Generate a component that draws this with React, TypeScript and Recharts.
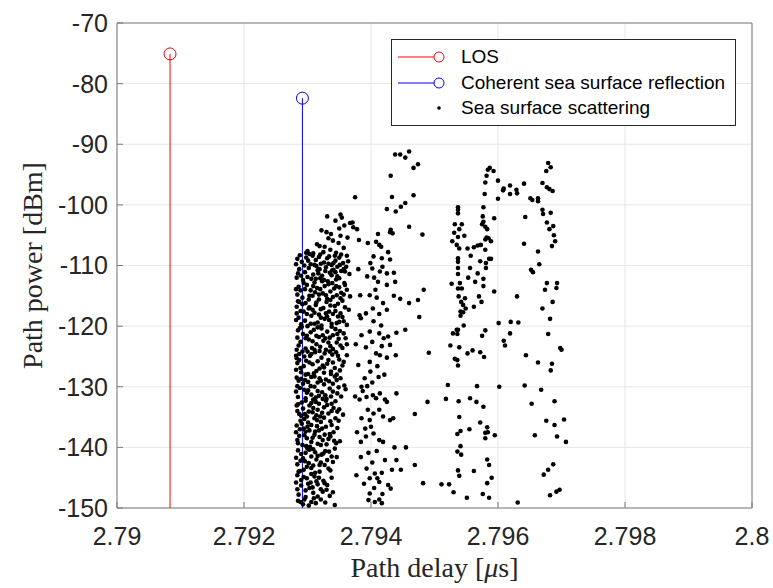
import { CartesianGrid, ReferenceArea, Scatter, ScatterChart, XAxis, YAxis } from "recharts";

// stems (delay in us, power in dBm)
const losStem = [
  { delay: 2.790835, power: -150 },
  { delay: 2.790835, power: -75.1 },
];
const reflectionStem = [
  { delay: 2.79292, power: -150 },
  { delay: 2.79292, power: -82.4 },
];

// dense scattering cluster right after the coherent reflection
const denseCluster: [number, number][] = [
  [2.79331, -101.9], [2.79344, -102.6], [2.79358, -103.4], [2.79322, -104.2], [2.7934, -105.9], [2.79363, -105.4],
  [2.79315, -106.5], [2.79327, -106.9], [2.79349, -106.3], [2.79357, -107.1], [2.793, -107.6], [2.79336, -107.4],
  [2.79345, -107.9], [2.79309, -108.0], [2.7932, -108.2], [2.79362, -108.4],
  [2.79284, -108.9], [2.79291, -109.4], [2.79298, -108.7], [2.79305, -109.8], [2.79313, -109.1], [2.79318, -108.6],
  [2.79326, -109.5], [2.79331, -108.8], [2.79338, -109.9], [2.79344, -109.2], [2.7935, -108.7], [2.79356, -109.6],
  [2.79361, -110.2], [2.79287, -110.6], [2.79296, -111.1], [2.79302, -110.4], [2.79309, -111.5], [2.79316, -110.8],
  [2.79323, -111.7], [2.79329, -110.3], [2.79335, -111.2], [2.79341, -110.7], [2.79347, -111.8], [2.79353, -110.9],
  [2.79366, -111.4], [2.79283, -112.0], [2.79293, -112.4], [2.79311, -112.8], [2.7932, -112.1], [2.79332, -112.6],
  [2.79345, -112.3], [2.79358, -112.9],
  [2.79286, -113.5], [2.79299, -113.2], [2.79305, -114.1], [2.79315, -113.7], [2.79327, -113.4], [2.79336, -114.3],
  [2.7935, -113.6], [2.79362, -114.0], [2.79284, -114.8], [2.79292, -115.3], [2.79308, -115.0], [2.79318, -115.6],
  [2.79324, -114.6], [2.7934, -115.2], [2.79346, -114.9], [2.79355, -115.8], [2.79297, -116.2], [2.7933, -116.0],
  [2.79283, -116.8], [2.79289, -117.5], [2.79303, -116.9], [2.79311, -117.8], [2.79321, -117.2], [2.79334, -117.6],
  [2.79343, -116.7], [2.79352, -117.9], [2.79365, -117.3], [2.79286, -118.6], [2.79296, -119.1], [2.79306, -118.3],
  [2.79316, -119.4], [2.79327, -118.8], [2.79338, -119.6], [2.79348, -118.4], [2.79357, -119.2], [2.793, -120.0],
  [2.79322, -119.9],
  [2.79285, -120.7], [2.79293, -121.3], [2.7931, -120.6], [2.79318, -121.8], [2.79331, -120.9], [2.7934, -121.5],
  [2.79351, -120.8], [2.7936, -122.0], [2.79289, -122.6], [2.79302, -122.2], [2.79314, -123.0], [2.79325, -122.4],
  [2.79336, -123.3], [2.79346, -122.7], [2.79355, -123.6], [2.79283, -123.9], [2.79297, -123.7], [2.79329, -123.9],
  [2.79287, -124.6], [2.79304, -124.9], [2.79312, -124.3], [2.79322, -125.2], [2.79339, -124.7], [2.7935, -125.5],
  [2.79362, -124.8], [2.79284, -126.1], [2.79294, -126.6], [2.79308, -126.3], [2.79319, -127.0], [2.79331, -126.2],
  [2.79343, -126.9], [2.79355, -126.5], [2.7929, -127.6], [2.79301, -127.9], [2.79326, -127.7], [2.79346, -128.0],
  [2.79283, -128.5], [2.79296, -128.9], [2.79306, -128.4], [2.79316, -129.3], [2.79329, -128.8], [2.7934, -129.5],
  [2.79352, -128.6], [2.79288, -130.2], [2.79301, -130.6], [2.79311, -130.0], [2.79323, -130.9], [2.79335, -130.3],
  [2.79347, -131.1], [2.7936, -130.4], [2.79285, -131.7], [2.79297, -131.9], [2.79318, -131.5], [2.7933, -132.0],
  [2.79291, -132.6], [2.79303, -133.1], [2.79313, -132.5], [2.79326, -133.4], [2.79338, -132.8], [2.7935, -133.7],
  [2.79284, -134.0], [2.79296, -134.5], [2.79308, -134.2], [2.7932, -134.9], [2.79333, -134.4], [2.79344, -135.2],
  [2.79289, -135.6], [2.79301, -135.9], [2.79315, -135.5], [2.79356, -134.6],
  [2.79283, -136.4], [2.79294, -136.9], [2.79306, -136.3], [2.79318, -137.2], [2.79329, -136.6], [2.79341, -137.5],
  [2.79287, -138.1], [2.79299, -138.5], [2.79311, -137.9], [2.79324, -138.8], [2.79336, -138.2], [2.79351, -139.0],
  [2.79292, -139.6], [2.79304, -139.9], [2.79316, -139.4],
  [2.79285, -140.5], [2.79297, -140.9], [2.79309, -140.3], [2.79322, -141.2], [2.79334, -140.7], [2.79346, -141.6],
  [2.79289, -142.2], [2.79302, -142.6], [2.79314, -142.0], [2.79327, -142.9], [2.7934, -142.4], [2.79294, -143.7],
  [2.79306, -143.4], [2.79319, -144.0],
  [2.79284, -144.6], [2.79299, -145.1], [2.79311, -144.8], [2.79325, -145.5], [2.79338, -145.0], [2.7929, -146.3],
  [2.79303, -146.7], [2.79316, -146.1], [2.7933, -147.0], [2.79286, -147.8], [2.79297, -148.2], [2.79309, -147.5],
  [2.79321, -148.6], [2.79335, -148.0], [2.79293, -149.4], [2.79313, -149.2], [2.79343, -149.5],
  [2.79375, -98.75], [2.79352, -101.6], [2.79354, -102.1], [2.79367, -103.0], [2.79371, -102.9], [2.79372, -103.7],
  [2.79378, -104.0], [2.7935, -103.9], [2.79381, -105.8], [2.79352, -105.1], [2.7933, -104.5], [2.79337, -104.8],
  [2.79333, -105.5], [2.79319, -106.8],
  [2.79288, -108.3], [2.79295, -110.0], [2.79301, -109.2], [2.79308, -108.4], [2.79314, -110.1], [2.79321, -109.7],
  [2.79328, -110.9], [2.79334, -108.5], [2.79341, -109.6], [2.79347, -110.2], [2.79353, -108.2], [2.79359, -111.0],
  [2.7929, -111.7], [2.79306, -112.2], [2.79317, -111.3], [2.79326, -112.4], [2.79338, -111.6], [2.7935, -112.1],
  [2.79364, -109.3], [2.79298, -107.9], [2.79325, -107.8], [2.79343, -108.4],
  [2.79289, -114.1], [2.79296, -113.9], [2.79302, -115.6], [2.79312, -114.4], [2.7932, -113.9], [2.79329, -114.9],
  [2.79333, -113.1], [2.79342, -113.8], [2.79353, -114.5], [2.79359, -113.2], [2.79285, -115.9], [2.79314, -116.1],
  [2.79336, -115.7], [2.79348, -116.3], [2.79367, -115.1],
  [2.79292, -116.4], [2.79299, -118.0], [2.79308, -117.3], [2.79318, -118.1], [2.79325, -117.0], [2.79331, -118.4],
  [2.7934, -118.0], [2.79346, -119.5], [2.79355, -118.5], [2.7929, -119.7], [2.79311, -119.6], [2.79334, -119.0],
  [2.79362, -119.8], [2.79283, -117.9],
  [2.79288, -120.3], [2.79297, -122.0], [2.79305, -121.0], [2.79314, -121.6], [2.79322, -120.4], [2.79328, -122.0],
  [2.79335, -121.9], [2.79344, -120.5], [2.79349, -122.1], [2.79357, -121.2], [2.79286, -123.2], [2.79307, -123.6],
  [2.7932, -123.4], [2.7934, -123.8], [2.79362, -123.0],
  [2.79283, -125.3], [2.79295, -125.0], [2.793, -124.2], [2.79316, -125.8], [2.79327, -124.5], [2.79333, -125.6],
  [2.79345, -124.3], [2.79357, -125.9], [2.79289, -126.9], [2.79303, -126.0], [2.79314, -127.4], [2.79324, -126.5],
  [2.79337, -127.5], [2.79351, -127.3], [2.79297, -128.0],
  [2.7929, -128.7], [2.79301, -129.2], [2.79311, -128.3], [2.79321, -129.0], [2.79334, -129.1], [2.79346, -128.9],
  [2.79358, -129.8], [2.79284, -129.9], [2.79295, -130.5], [2.79306, -131.3], [2.79316, -130.7], [2.79328, -131.4],
  [2.7934, -130.8], [2.79353, -131.6], [2.79309, -132.1],
  [2.79285, -132.9], [2.79297, -132.3], [2.79309, -133.5], [2.79318, -132.8], [2.79331, -133.0], [2.79344, -132.4],
  [2.7929, -134.8], [2.79302, -134.1], [2.79314, -134.7], [2.79326, -135.1], [2.79338, -134.0], [2.79349, -135.6],
  [2.79295, -135.3], [2.79321, -135.8],
  [2.79288, -137.0], [2.793, -136.6], [2.79312, -137.4], [2.79323, -136.9], [2.79335, -137.8], [2.79347, -136.8],
  [2.79284, -138.8], [2.79295, -138.0], [2.79306, -139.1], [2.79319, -138.3], [2.7933, -139.5], [2.79342, -138.9],
  [2.79298, -139.8],
  [2.7929, -141.1], [2.79303, -140.4], [2.79316, -141.4], [2.79328, -140.6], [2.79338, -141.5], [2.79284, -142.8],
  [2.79296, -142.3], [2.79309, -143.0], [2.79321, -142.5], [2.79333, -143.5], [2.79288, -143.9], [2.79312, -144.2],
  [2.7929, -145.4], [2.79305, -145.8], [2.79318, -145.0], [2.79331, -146.2], [2.79284, -146.9], [2.79297, -147.1],
  [2.7931, -148.4], [2.79324, -147.3], [2.79289, -149.0], [2.79302, -149.6], [2.79328, -149.1], [2.79306, -144.4],
  [2.79282, -109.8], [2.79285, -111.3], [2.79282, -113.9], [2.79287, -116.0], [2.79282, -119.0], [2.79284, -121.9],
  [2.79282, -124.9], [2.79287, -125.6], [2.79282, -127.2], [2.79286, -129.0], [2.79282, -130.8], [2.79283, -133.1],
  [2.79287, -134.5], [2.79282, -137.5], [2.79285, -139.3], [2.79282, -141.7], [2.79286, -144.0], [2.79282, -145.8],
  [2.79285, -148.8],
  [2.79303, -108.1], [2.79311, -109.9], [2.79319, -110.6], [2.79333, -109.7], [2.79339, -110.8], [2.79351, -109.9],
  [2.79357, -110.6], [2.793, -111.9], [2.79313, -112.2], [2.79344, -111.1],
  [2.79294, -112.9], [2.79309, -113.4], [2.79318, -114.8], [2.79323, -112.6], [2.79331, -115.5], [2.79339, -112.9],
  [2.79345, -113.4], [2.79357, -114.8], [2.79303, -115.0], [2.79352, -115.4],
  [2.79294, -117.6], [2.79305, -119.6], [2.79313, -116.5], [2.79321, -118.6], [2.79329, -117.9], [2.79336, -116.6],
  [2.79344, -117.5], [2.7935, -119.3], [2.79359, -116.9], [2.79302, -117.1],
  [2.79291, -120.1], [2.79299, -121.6], [2.79308, -122.5], [2.79316, -120.2], [2.79324, -121.5], [2.79333, -122.7],
  [2.79338, -120.1], [2.79347, -121.3], [2.79352, -123.2], [2.79311, -123.9],
  [2.79292, -124.2], [2.79298, -125.7], [2.79306, -124.6], [2.79319, -124.1], [2.79326, -126.8], [2.79335, -124.2],
  [2.7934, -126.0], [2.79348, -124.9], [2.7931, -127.8], [2.79337, -127.9],
  [2.79293, -129.5], [2.79299, -131.0], [2.79305, -129.9], [2.79313, -131.8], [2.79319, -128.6], [2.79326, -129.6],
  [2.79337, -131.6], [2.79343, -128.3], [2.79349, -130.1], [2.79324, -132.0],
  [2.79293, -133.6], [2.79299, -134.9], [2.79306, -132.7], [2.79316, -133.8], [2.79323, -134.3], [2.79329, -132.3],
  [2.79336, -135.7], [2.79341, -133.5], [2.79311, -135.2], [2.79347, -134.1],
  [2.79291, -136.1], [2.79297, -137.4], [2.79308, -138.4], [2.79315, -136.5], [2.79321, -139.6], [2.79327, -137.9],
  [2.79338, -136.3], [2.79345, -139.3], [2.79303, -137.2], [2.79333, -138.6],
  [2.79293, -141.8], [2.79299, -143.2], [2.79306, -141.5], [2.79312, -140.8], [2.79319, -142.9], [2.79325, -141.0],
  [2.79331, -142.1], [2.79343, -140.2], [2.793, -140.2], [2.79336, -143.8],
  [2.79294, -144.9], [2.79301, -146.0], [2.79308, -146.6], [2.79314, -145.6], [2.79321, -146.9], [2.79295, -148.6],
  [2.79316, -148.1], [2.79327, -145.9], [2.7934, -147.4], [2.79306, -149.0],
];

// second group around 2.794 us
const middleCluster: [number, number][] = [
  [2.79438, -91.7], [2.79446, -91.7], [2.79454, -92.2], [2.7946, -91.2], [2.79467, -93.9], [2.79474, -93.3],
  [2.79431, -95.2], [2.79433, -98.7], [2.79467, -98.4], [2.79425, -100.7], [2.79439, -101.1], [2.79447, -100.3],
  [2.79454, -99.7], [2.79431, -104.1], [2.7946, -103.6], [2.79481, -104.9],
  [2.79411, -104.8], [2.7943, -104.5], [2.79434, -104.7], [2.79408, -106.1], [2.79413, -106.6], [2.79416, -106.9],
  [2.79427, -107.8], [2.79404, -108.5], [2.79417, -108.8], [2.7943, -109.0], [2.79402, -110.5], [2.79414, -111.0],
  [2.79425, -111.3], [2.79436, -111.2], [2.79411, -112.7], [2.79425, -113.2], [2.79438, -112.7], [2.79398, -114.9],
  [2.79409, -115.3], [2.79419, -116.2], [2.79436, -115.0], [2.79446, -115.5], [2.79403, -117.1], [2.79413, -118.0],
  [2.79425, -117.3], [2.79398, -120.9], [2.79413, -121.2], [2.79427, -121.7], [2.7944, -121.1], [2.79454, -120.6],
  [2.79402, -122.6], [2.79417, -123.3], [2.7943, -123.1], [2.79408, -124.5], [2.79414, -124.8], [2.79425, -125.2],
  [2.79439, -124.8], [2.79398, -125.9], [2.7941, -126.6], [2.79383, -114.9], [2.79382, -118.2], [2.79384, -118.7],
  [2.79385, -121.5], [2.7946, -116.2], [2.79474, -115.7], [2.79483, -114.0], [2.79476, -118.5], [2.79491, -124.4],
  [2.79385, -130.0], [2.79394, -129.9], [2.79387, -130.7], [2.79375, -131.6], [2.79382, -132.1], [2.79393, -131.7],
  [2.79403, -131.4], [2.79408, -131.9], [2.79414, -131.1], [2.79422, -132.1], [2.79425, -132.5], [2.79395, -133.8],
  [2.79404, -134.4], [2.79413, -133.8], [2.79419, -134.9], [2.7943, -135.5], [2.79435, -135.2], [2.7944, -131.1],
  [2.79385, -135.2], [2.79398, -135.5], [2.79384, -139.1], [2.79392, -138.2], [2.79404, -137.7], [2.79413, -138.8],
  [2.79419, -139.1], [2.79437, -140.0], [2.79455, -140.0], [2.79384, -141.6], [2.79393, -143.5], [2.79398, -145.1],
  [2.79406, -144.3], [2.7941, -145.1], [2.79413, -145.7], [2.79417, -144.2], [2.79422, -142.1], [2.79433, -143.7],
  [2.79447, -143.7], [2.7944, -142.1], [2.79427, -146.2], [2.79431, -146.8], [2.79418, -147.7], [2.79413, -148.6],
  [2.79406, -149.0], [2.79417, -149.2], [2.79398, -147.6], [2.79396, -148.7], [2.79469, -134.5], [2.79489, -132.5],
  [2.79469, -142.9], [2.79482, -145.9], [2.79511, -146.1], [2.79523, -146.1], [2.7953, -147.4], [2.79521, -129.7],
  [2.79518, -132.0],
  [2.79395, -106.3], [2.79399, -109.6], [2.79405, -112.0], [2.79418, -110.2], [2.79394, -111.8], [2.79407, -114.0],
  [2.79392, -117.9], [2.79416, -119.9], [2.79404, -119.2], [2.79392, -123.5], [2.7942, -122.0], [2.79399, -127.5],
  [2.79412, -128.4], [2.7939, -128.6], [2.79402, -129.3], [2.79421, -128.0], [2.794, -136.6], [2.79391, -136.9],
  [2.79409, -140.6], [2.79396, -140.9], [2.79402, -142.5], [2.79389, -146.0], [2.79405, -146.7], [2.7938, -126.4],
  [2.79378, -137.5], [2.79377, -144.6], [2.7938, -110.6], [2.79376, -123.0],
];

// sparse columns beyond 2.795 us
const farCluster: [number, number][] = [
  [2.79537, -100.4], [2.79537, -100.8], [2.79537, -101.4], [2.79532, -103.2], [2.79543, -103.2], [2.79539, -104.0],
  [2.79531, -104.6], [2.79537, -105.3], [2.79547, -105.1], [2.79528, -106.0], [2.79535, -106.6], [2.79539, -107.2],
  [2.79537, -108.8], [2.79537, -109.4], [2.79537, -110.4], [2.79537, -111.4], [2.7954, -112.9], [2.79537, -113.8],
  [2.79543, -113.8], [2.79538, -115.1], [2.79542, -116.0], [2.79545, -116.5], [2.79549, -117.1], [2.79545, -117.7],
  [2.79541, -118.3], [2.79527, -113.0], [2.79548, -115.4],
  [2.79587, -93.9], [2.79584, -94.2], [2.79593, -94.4], [2.79582, -95.2], [2.7958, -96.3], [2.796, -96.0],
  [2.79579, -98.2], [2.796, -99.0], [2.79577, -100.4], [2.79576, -101.9], [2.79594, -102.2], [2.79577, -102.8],
  [2.79575, -103.2], [2.7958, -103.6], [2.79583, -104.0], [2.79582, -105.4], [2.79585, -105.5], [2.79589, -106.0],
  [2.7958, -105.7], [2.79552, -107.2], [2.79562, -107.0], [2.79568, -106.7], [2.79573, -106.6], [2.7958, -107.4],
  [2.79557, -108.4], [2.79586, -108.9], [2.79589, -108.9], [2.79572, -109.3], [2.79581, -109.6], [2.79556, -110.4],
  [2.79581, -110.4], [2.79568, -111.3], [2.79553, -112.0], [2.79577, -112.2], [2.79564, -112.7], [2.79577, -113.4],
  [2.79594, -114.3], [2.7957, -115.1], [2.79574, -116.0], [2.79562, -116.8],
  [2.79609, -97.3], [2.79608, -97.6], [2.79619, -96.8], [2.79619, -98.2], [2.79629, -97.5], [2.7963, -98.1],
  [2.79641, -96.5], [2.79651, -98.9], [2.79654, -99.2], [2.79663, -98.9], [2.79663, -99.4], [2.79679, -93.1],
  [2.79683, -93.8], [2.79676, -94.4], [2.7967, -96.4], [2.79677, -97.1], [2.79681, -97.4], [2.79686, -97.7],
  [2.7967, -100.8], [2.79671, -101.5], [2.79683, -101.3], [2.79643, -102.0], [2.79677, -102.9], [2.79687, -103.5],
  [2.79681, -104.0], [2.79688, -105.0], [2.7969, -106.0], [2.79685, -106.8], [2.79641, -106.4], [2.79663, -107.7],
  [2.79665, -109.8], [2.79652, -110.7], [2.79655, -111.1], [2.79677, -112.9], [2.79693, -112.9], [2.79692, -113.7],
  [2.79674, -114.0], [2.7963, -115.1], [2.79686, -116.0], [2.7967, -117.1], [2.79682, -118.8],
  [2.79541, -117.6], [2.79535, -120.6], [2.79537, -120.6], [2.79529, -121.2], [2.79536, -121.3], [2.79546, -119.9],
  [2.79525, -123.2], [2.79539, -123.5], [2.79532, -125.4], [2.79536, -125.6], [2.79537, -126.5], [2.79552, -124.5],
  [2.7956, -124.0], [2.79572, -124.3], [2.79578, -125.1], [2.7958, -120.7], [2.79575, -121.6], [2.79601, -119.5],
  [2.7962, -119.3], [2.79632, -119.4], [2.79619, -121.2], [2.79609, -122.4], [2.79611, -123.2], [2.79644, -124.8],
  [2.79663, -126.0], [2.79679, -121.3], [2.79698, -123.6], [2.797, -123.9], [2.79685, -126.2], [2.79683, -127.3],
  [2.79567, -129.9], [2.79602, -130.0], [2.79642, -129.8], [2.79668, -130.5], [2.79538, -132.4], [2.79556, -131.9],
  [2.79566, -132.5], [2.79577, -133.3], [2.79653, -132.8], [2.79689, -132.4], [2.79539, -135.0], [2.79572, -135.9],
  [2.79583, -136.7], [2.7958, -137.6], [2.79584, -137.5], [2.7958, -138.5], [2.79595, -138.0], [2.79555, -137.0],
  [2.79541, -137.3], [2.79536, -137.8], [2.79676, -135.6], [2.79689, -136.3], [2.79704, -135.4], [2.79658, -138.0],
  [2.79693, -138.2], [2.79707, -139.1], [2.79541, -139.8], [2.79536, -140.7], [2.79542, -141.2], [2.79583, -142.0],
  [2.79586, -142.9], [2.79687, -142.8], [2.79679, -143.7], [2.79672, -144.5], [2.79537, -143.8], [2.79539, -144.7],
  [2.79562, -143.9], [2.7959, -145.0], [2.79583, -145.9], [2.79576, -147.7], [2.79586, -148.3], [2.79551, -148.3],
  [2.79682, -147.9], [2.79692, -147.3], [2.79697, -147.0], [2.79631, -149.1],
];

const xTicks = [2.79, 2.792, 2.794, 2.796, 2.798, 2.8];
const xTickLabels = ["2.79", "2.792", "2.794", "2.796", "2.798", "2.8"];
const yTicks = [-150, -140, -130, -120, -110, -100, -90, -80, -70];

const scattering = [...denseCluster, ...middleCluster, ...farCluster].map(([delay, power]) => ({ delay, power }));

const tickFont = { fontFamily: "'Liberation Sans', Arial, sans-serif", fontSize: 25, fill: "#262626" };
const labelFont = "'Liberation Serif', 'DejaVu Serif', serif";
const axisGray = "#7a7a7a";

function stemHead(color: string) {
  return (p: any) =>
    p.payload.power > -150 ? (
      <circle cx={p.cx} cy={p.cy} r={6} fill="none" stroke={color} strokeWidth={1} />
    ) : (
      <g />
    );
}

const dot = (p: any) => <circle cx={p.cx} cy={p.cy} r={2.3} fill="#000" />;

function LegendBox() {
  const rows = [
    { name: "LOS", color: "#ff0000", kind: "stem" },
    { name: "Coherent sea surface reflection", color: "#0000ff", kind: "stem" },
    { name: "Sea surface scattering", color: "#000", kind: "dot" },
  ];
  return (
    <div
      style={{
        position: "absolute",
        left: 391,
        top: 39,
        border: "1px solid #262626",
        background: "#fff",
        padding: "4px 10px 4px 5px",
        fontFamily: "'Liberation Sans', Arial, sans-serif",
        fontSize: 19,
        color: "#000",
      }}
    >
      {rows.map((r) => (
        <div key={r.name} style={{ display: "flex", alignItems: "center", height: 25.7 }}>
          <svg width={64} height={20} style={{ flex: "none" }}>
            {r.kind === "stem" ? (
              <>
                <line x1={1} y1={10} x2={37} y2={10} stroke={r.color} strokeWidth={1} />
                <circle cx={42} cy={10} r={5} fill="none" stroke={r.color} strokeWidth={1} />
              </>
            ) : (
              <circle cx={42} cy={10} r={1.8} fill="#000" />
            )}
          </svg>
          <span style={{ whiteSpace: "nowrap" }}>{r.name}</span>
        </div>
      ))}
    </div>
  );
}

export default function App() {
  return (
    <div style={{ position: "absolute", left: 0, top: 0, width: 773, height: 588, background: "#fff" }}>
      <ScatterChart width={773} height={588} margin={{ top: 23, right: 21, bottom: 0, left: 0 }}>
        <CartesianGrid stroke="#e6e6e6" strokeWidth={1} />
        <XAxis
          type="number"
          dataKey="delay"
          domain={[2.79, 2.8]}
          ticks={xTicks}
          tickFormatter={(v: number) => xTickLabels[xTicks.indexOf(v)] ?? String(v)}
          height={80}
          axisLine={false}
          tickLine={{ stroke: axisGray }}
          tickSize={-6}
          tickMargin={25}
          tick={tickFont}
          allowDataOverflow
          label={(props: any) => {
            const vb = props.viewBox;
            return (
              <text
                x={vb.x + vb.width / 2}
                y={577}
                textAnchor="middle"
                fontFamily={labelFont}
                fontSize={28}
                fill="#262626"
              >
                Path delay [<tspan fontStyle="italic">μ</tspan>s]
              </text>
            );
          }}
        />
        <YAxis
          type="number"
          dataKey="power"
          domain={[-150, -70]}
          ticks={yTicks}
          width={117}
          axisLine={false}
          tickLine={{ stroke: axisGray }}
          tickSize={-6}
          tickMargin={15}
          tick={tickFont}
          allowDataOverflow
          label={(props: any) => {
            const vb = props.viewBox;
            const cy = vb.y + vb.height / 2;
            return (
              <text
                x={32}
                y={cy}
                transform={`rotate(-90, 32, ${cy})`}
                textAnchor="middle"
                dominantBaseline="central"
                fontFamily={labelFont}
                fontSize={28}
                fill="#262626"
              >
                Path power [dBm]
              </text>
            );
          }}
        />
        <ReferenceArea x1={2.79} x2={2.8} y1={-150} y2={-70} fill="none" stroke={axisGray} strokeWidth={1} />
        <Scatter
          name="LOS"
          data={losStem}
          line={{ stroke: "#ff0000", strokeWidth: 1 }}
          shape={stemHead("#ff0000")}
          isAnimationActive={false}
        />
        <Scatter
          name="Coherent sea surface reflection"
          data={reflectionStem}
          line={{ stroke: "#0000ff", strokeWidth: 1 }}
          shape={stemHead("#0000ff")}
          isAnimationActive={false}
        />
        <Scatter name="Sea surface scattering" data={scattering} shape={dot} isAnimationActive={false} />
      </ScatterChart>
      <LegendBox />
    </div>
  );
}
